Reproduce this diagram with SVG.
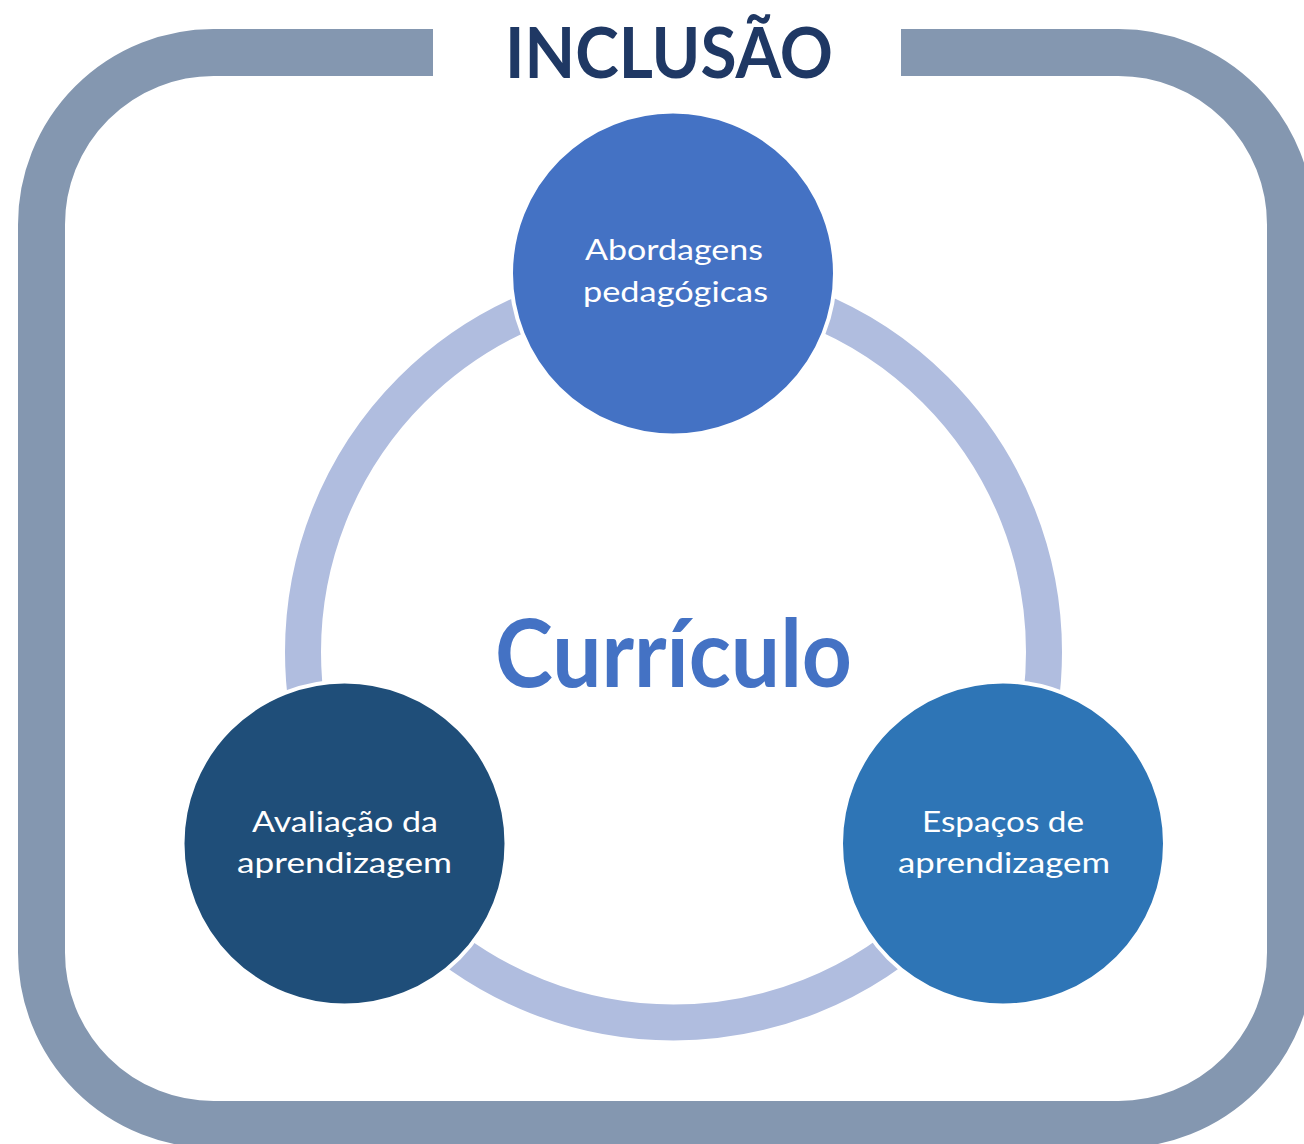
<svg xmlns="http://www.w3.org/2000/svg" width="1304" height="1144" viewBox="0 0 1304 1144">
<style>
.frame{fill:none;stroke:#8497B0;stroke-width:47;stroke-linecap:butt}
.ring{fill:none;stroke:#B0BDDF;stroke-width:36}
.node{stroke:#FFFFFF;stroke-width:4}
.lbl{font-family:Lato,"Open Sans","Liberation Sans",sans-serif;font-size:28px;fill:#FFFFFF;text-anchor:middle}
.title{font-family:Lato,"Open Sans","Liberation Sans",sans-serif;font-weight:bold;text-anchor:middle}
</style>
<rect width="1304" height="1144" fill="#FFFFFF"/>
<g id="frame">
<path class="frame" d="M433,52.5 H213.5 A172,172 0 0 0 41.5,224.5 V952.5 A172,172 0 0 0 213.5,1124.5 H1118.5 A172,172 0 0 0 1290.5,952.5 V224.5 A172,172 0 0 0 1118.5,52.5 H901"/>
</g>
<text id="title" class="title" x="669" y="78" font-size="71" fill="#1F3864" textLength="328" lengthAdjust="spacingAndGlyphs">INCLUSÃO</text>
<g id="connectors">
<circle class="ring" cx="673.5" cy="652" r="370.5"/>
</g>
<text id="center" class="title" x="673.5" y="687" font-size="93" fill="#4472C4" textLength="357" lengthAdjust="spacingAndGlyphs">Currículo</text>
<g id="node-abordagens">
<circle class="node" cx="673" cy="273.5" r="162" fill="#4472C4"/>
<text class="lbl" x="674" y="260" textLength="178" lengthAdjust="spacingAndGlyphs">Abordagens</text>
<text class="lbl" x="675.5" y="302" textLength="185" lengthAdjust="spacingAndGlyphs">pedagógicas</text>
</g>
<g id="node-avaliacao">
<circle class="node" cx="344.5" cy="843.5" r="162" fill="#1F4E79"/>
<text class="lbl" x="345" y="832" textLength="186" lengthAdjust="spacingAndGlyphs">Avaliação da</text>
<text class="lbl" x="344.5" y="873" textLength="215" lengthAdjust="spacingAndGlyphs">aprendizagem</text>
</g>
<g id="node-espacos">
<circle class="node" cx="1003" cy="843.5" r="162" fill="#2E75B6"/>
<text class="lbl" x="1003" y="832" textLength="162" lengthAdjust="spacingAndGlyphs">Espaços de</text>
<text class="lbl" x="1004" y="873" textLength="212" lengthAdjust="spacingAndGlyphs">aprendizagem</text>
</g>
</svg>
